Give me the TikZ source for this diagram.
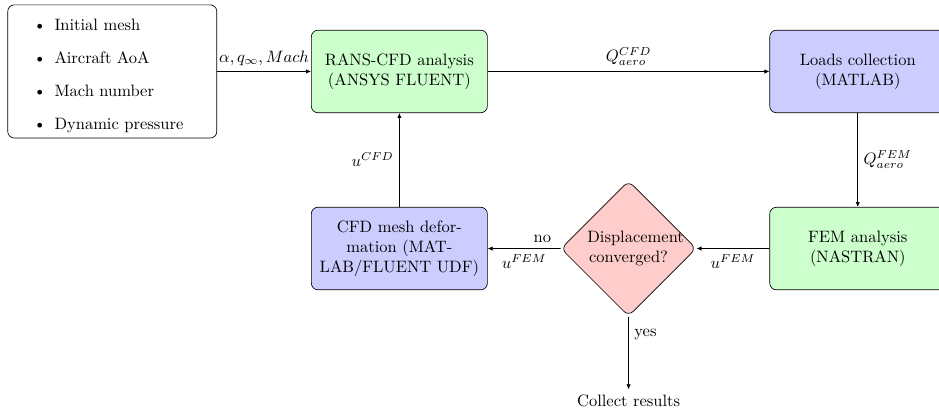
\documentclass[tikz,border=0pt]{standalone}
\usepackage{amsmath}
\usepackage{enumitem}
\usetikzlibrary{positioning,arrows.meta,shapes.geometric,calc}
\tikzset{
  inbox/.style={draw,rounded corners,text width=12em,align=left},
  gbox/.style={draw,fill=green!20,rounded corners,text width=10em,minimum height=5em,align=center},
  bbox/.style={draw,fill=blue!20,rounded corners,text width=10em,minimum height=5em,align=center},
  dbox/.style={diamond,draw,fill=red!20,rounded corners,text width=5em,inner sep=0pt,minimum size=82pt,align=center},
  arrow/.style={-{Latex[length=3pt,width=2.6pt]}},
}
\begin{document}
\begin{tikzpicture}
  \node[inbox] (input) {\begin{itemize}[topsep=0pt]
      \item Initial mesh
      \item Aircraft AoA
      \item Mach number
      \item Dynamic pressure
    \end{itemize}};
  \node[gbox,right=2cm of input] (rans) {RANS-CFD analysis (ANSYS FLUENT)};
  \node[bbox,right=6cm of rans] (loads) {Loads collection (MATLAB)};
  \node[gbox,below=2cm of loads] (fem) {FEM analysis (NASTRAN)};
  \node[bbox,below=2cm of rans] (mesh) {CFD mesh defor-\\mation (MAT-\\LAB/FLUENT UDF)};
  \node[dbox] (conv) at ($(mesh.east)!0.5!(fem.west)$) {Displacement\\converged?};
  \node[below=1.55cm of conv] (collect) {Collect results};
  % connectors
  \draw[arrow] (input) -- node[above] {$\alpha, q_\infty, Mach$} (rans);
  \draw[arrow] (rans) -- node[above] {$Q_{aero}^{CFD}$} (loads);
  \draw[arrow] (loads) -- node[right] {$Q_{aero}^{FEM}$} (fem);
  \draw[arrow] (fem) -- node[below] {$u^{FEM}$} (conv);
  \draw[arrow] (conv) -- node[above,near start] {no} node[below] {$u^{FEM}$} (mesh);
  \draw[arrow] (mesh) -- node[left] {$u^{CFD}$} (rans);
  \draw[arrow] (conv) -- node[right,near start] {yes} (collect);
  \pgfresetboundingbox
  \useasboundingbox ($(rans.center)+(-242pt,43.3pt)$) rectangle ++(569pt,-249pt);
\end{tikzpicture}
\end{document}
